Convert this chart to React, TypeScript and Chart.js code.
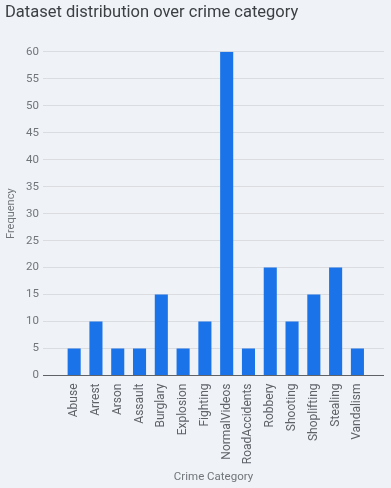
import React, { useEffect, useRef } from "react";
import { Chart, registerables } from "chart.js";

Chart.register(...registerables);

const categories = [
  "Abuse", "Arrest", "Arson", "Assault", "Burglary", "Explosion", "Fighting",
  "NormalVideos", "RoadAccidents", "Robbery", "Shooting", "Shoplifting", "Stealing", "Vandalism",
];
const frequencies = [5, 10, 5, 5, 15, 5, 10, 60, 5, 20, 10, 15, 20, 5];
const yTicks = [0, 5, 10, 15, 20, 25, 30, 35, 40, 45, 50, 55, 60];

const FONT = "Roboto, 'Noto Sans', sans-serif";

export default function App() {
  const ref = useRef<HTMLCanvasElement | null>(null);

  useEffect(() => {
    document.body.style.margin = "0";
    const canvas = ref.current;
    if (!canvas) return;
    const chart = new Chart(canvas, {
      type: "bar",
      data: {
        datasets: [
          {
            data: frequencies.map((v, i) => ({ x: i, y: v })),
            backgroundColor: "#1a73e8",
            barPercentage: 0.6,
            categoryPercentage: 1,
          },
        ],
      },
      options: {
        animation: false,
        responsive: false,
        maintainAspectRatio: false,
        layout: { padding: { left: 5, right: 7, top: 0, bottom: 0 } },
        plugins: {
          legend: { display: false },
          tooltip: { enabled: false },
          title: {
            display: true,
            text: "Dataset distribution over crime category",
            align: "start",
            color: "#3c4043",
            font: { family: FONT, size: 16.5, weight: "normal" },
            padding: { top: 3, bottom: 29 },
          },
        },
        scales: {
          x: {
            type: "linear",
            offset: false,
            min: -1.43,
            max: 14.22,
            grid: { display: false, drawTicks: false },
            border: { display: false },
            afterBuildTicks: (scale: any) => {
              scale.ticks = categories.map((_, i) => ({ value: i }));
            },
            afterFit: (scale: any) => {
              scale.height = 112.5;
            },
            ticks: {
              autoSkip: false,
              minRotation: 90,
              maxRotation: 90,
              padding: 8,
              color: "#5f6368",
              font: { family: FONT, size: 12 },
              callback: (v: any) => categories[Number(v)] ?? "",
            },
            title: {
              display: true,
              text: "Crime Category",
              color: "#70757a",
              font: { family: FONT, size: 11.5 },
              padding: { top: 4, bottom: 3.5 },
            },
          },
          y: {
            type: "linear",
            min: 0,
            max: 60,
            afterBuildTicks: (scale: any) => {
              scale.ticks = yTicks.map((v) => ({ value: v }));
            },
            afterFit: (scale: any) => {
              scale.width = 38;
            },
            grid: {
              drawTicks: false,
              color: (ctx: any) => (ctx.tick && ctx.tick.value === 0 ? "#5f6368" : "#dadce0"),
            },
            border: { display: false },
            ticks: {
              padding: 4,
              color: "#70757a",
              font: { family: FONT, size: 11.5 },
            },
            title: {
              display: true,
              text: "Frequency",
              color: "#70757a",
              font: { family: FONT, size: 11 },
              padding: { top: 0, bottom: 0 },
            },
          },
        },
      },
    });
    return () => chart.destroy();
  }, []);

  return (
    <div style={{ position: "fixed", left: 0, top: 0, width: 391, height: 488, background: "#eff3f8" }}>
      <canvas ref={ref} width={391} height={488} style={{ display: "block", width: 391, height: 488 }} />
    </div>
  );
}
